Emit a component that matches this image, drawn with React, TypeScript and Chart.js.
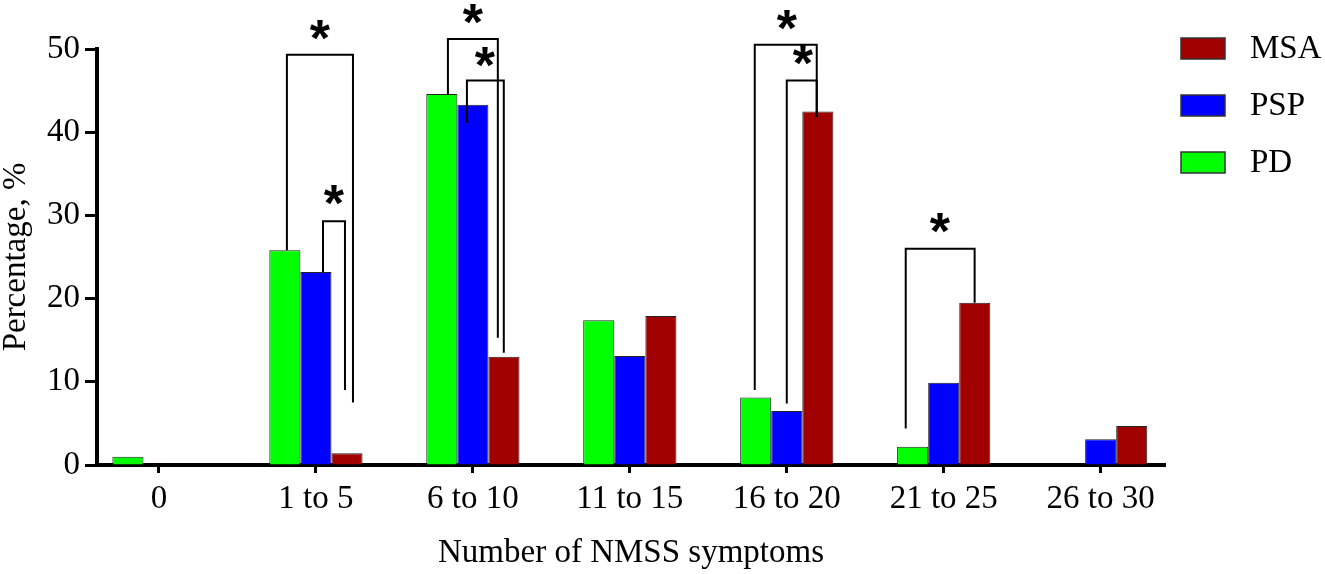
import { useEffect, useRef } from "react"
import { Chart, registerables } from "chart.js"

Chart.register(...registerables)

const CATEGORIES = ["0", "1 to 5", "6 to 10", "11 to 15", "16 to 20", "21 to 25", "26 to 30"]
const PD = [1.0, 25.8, 44.6, 17.4, 8.1, 2.2, 0]
const PSP = [0, 23.2, 43.3, 13.1, 6.5, 9.9, 3.1]
const MSA = [0, 1.4, 13.0, 17.9, 42.5, 19.5, 4.7]
const Y_TICKS = [0, 10, 20, 30, 40, 50]

// significance brackets: x in category units, y in percent
const BRACKETS = [
  { x1: 0.815, x2: 1.236, top: 49.3, y1: 25.8, y2: 7.5, starX: 1.025, starY: 52.3 },
  { x1: 1.045, x2: 1.185, top: 29.3, y1: 23.2, y2: 9.0, starX: 1.115, starY: 32.5 },
  { x1: 1.841, x2: 2.159, top: 51.2, y1: 44.6, y2: 15.3, starX: 2.0, starY: 54.2 },
  { x1: 1.962, x2: 2.197, top: 46.2, y1: 41.1, y2: 13.5, starX: 2.076, starY: 49.0 },
  { x1: 3.796, x2: 4.191, top: 50.5, y1: 9.0, y2: 41.8, starX: 4.0, starY: 53.5 },
  { x1: 4.0, x2: 4.191, top: 46.2, y1: 7.4, y2: 42.0, starX: 4.102, starY: 49.3 },
  { x1: 4.758, x2: 5.197, top: 26.0, y1: 4.4, y2: 19.5, starX: 4.975, starY: 29.1 },
]

const COLORS = {
  PD: "#00ff00",
  PSP: "#0000ff",
  MSA: "#a00000",
}

const SERIF = "'Liberation Serif', 'Times New Roman', serif"

const toPoints = (values: number[]) => values.map((y, x) => ({ x, y }))

const bracketPlugin = {
  id: "sigBrackets",
  afterDatasetsDraw(chart: any) {
    const { ctx, scales } = chart
    const xs = scales.x
    const ys = scales.y
    ctx.save()
    ctx.strokeStyle = "#000"
    ctx.lineWidth = 2
    ctx.lineJoin = "miter"
    BRACKETS.forEach((b) => {
      const xl = xs.getPixelForValue(b.x1)
      const xr = xs.getPixelForValue(b.x2)
      ctx.beginPath()
      ctx.moveTo(xl, ys.getPixelForValue(b.y1))
      ctx.lineTo(xl, ys.getPixelForValue(b.top))
      ctx.lineTo(xr, ys.getPixelForValue(b.top))
      ctx.lineTo(xr, ys.getPixelForValue(b.y2))
      ctx.stroke()
    })
    ctx.fillStyle = "#000"
    ctx.font = "bold 52px 'Liberation Sans', Arial, sans-serif"
    ctx.textAlign = "center"
    ctx.textBaseline = "alphabetic"
    const m = ctx.measureText("*")
    const shift = (m.actualBoundingBoxAscent - m.actualBoundingBoxDescent) / 2
    BRACKETS.forEach((b) => {
      ctx.fillText("*", xs.getPixelForValue(b.starX), ys.getPixelForValue(b.starY) + shift)
    })
    ctx.restore()
  },
}

const legendPlugin = {
  id: "sideLegend",
  afterDraw(chart: any) {
    const { ctx, chartArea } = chart
    const items = [...chart.data.datasets].reverse()
    ctx.save()
    ctx.font = `33px ${SERIF}`
    ctx.textAlign = "left"
    ctx.textBaseline = "middle"
    items.forEach((ds: any, i: number) => {
      const x = chartArea.right + 16
      const y = chartArea.top - 11 + i * 57
      ctx.fillStyle = ds.backgroundColor
      ctx.fillRect(x, y, 44, 21)
      ctx.strokeStyle = "#333"
      ctx.lineWidth = 1.5
      ctx.strokeRect(x, y, 44, 21)
      ctx.fillStyle = "#000"
      ctx.fillText(ds.label, x + 69, y + 11)
    })
    ctx.restore()
  },
}

export default function App() {
  const canvasRef = useRef<HTMLCanvasElement>(null)

  useEffect(() => {
    const canvas = canvasRef.current
    if (!canvas) return

    const bar = (label: string, values: number[], color: string) => ({
      label,
      data: toPoints(values),
      backgroundColor: color,
      borderColor: "#222",
      borderWidth: 1,
      categoryPercentage: 0.594,
      barPercentage: 1,
    })

    const chart = new Chart(canvas, {
      type: "bar",
      data: {
        datasets: [bar("PD", PD, COLORS.PD), bar("PSP", PSP, COLORS.PSP), bar("MSA", MSA, COLORS.MSA)],
      },
      plugins: [bracketPlugin, legendPlugin],
      options: {
        animation: false,
        responsive: true,
        maintainAspectRatio: false,
        layout: { padding: { top: 49, right: 160, bottom: 0, left: 0 } },
        plugins: { legend: { display: false }, tooltip: { enabled: false } },
        scales: {
          x: {
            type: "linear",
            min: -0.395,
            max: 6.41,
            bounds: "data",
            offset: false,
            afterFit: (scale: any) => {
              scale.height = 109
            },
            afterBuildTicks: (scale: any) => {
              scale.ticks = CATEGORIES.map((_, i) => ({ value: i }))
            },
            grid: {
              display: true,
              drawOnChartArea: false,
              drawTicks: true,
              offset: false,
              tickLength: 8,
              tickWidth: 3,
              tickColor: "#000",
            },
            border: { display: true, color: "#000", width: 4 },
            ticks: {
              autoSkip: false,
              maxRotation: 0,
              padding: 7,
              color: "#000",
              font: { family: SERIF, size: 33 },
              callback: (value: any) => CATEGORIES[Math.round(Number(value))] ?? "",
            },
            title: {
              display: true,
              text: "Number of NMSS symptoms",
              color: "#000",
              font: { family: SERIF, size: 33 },
              padding: { top: 0, bottom: 1 },
            },
          },
          y: {
            min: Y_TICKS[0],
            max: Y_TICKS[Y_TICKS.length - 1],
            afterFit: (scale: any) => {
              scale.width = 97
            },
            afterBuildTicks: (scale: any) => {
              scale.ticks = Y_TICKS.map((value) => ({ value }))
            },
            grid: {
              display: true,
              drawOnChartArea: false,
              drawTicks: true,
              tickLength: 12,
              tickWidth: 3,
              tickColor: "#000",
            },
            border: { display: true, color: "#000", width: 4 },
            ticks: {
              padding: 5,
              color: "#000",
              font: { family: SERIF, size: 33 },
            },
            title: {
              display: true,
              text: "Percentage, %",
              color: "#000",
              font: { family: SERIF, size: 33, lineHeight: 1 },
              padding: 0,
            },
          },
        },
      },
    })

    return () => {
      chart.destroy()
    }
  }, [])

  return (
    <div style={{ position: "absolute", left: 0, top: 0, width: 1325, height: 574, background: "#fff" }}>
      <canvas ref={canvasRef} />
    </div>
  )
}
